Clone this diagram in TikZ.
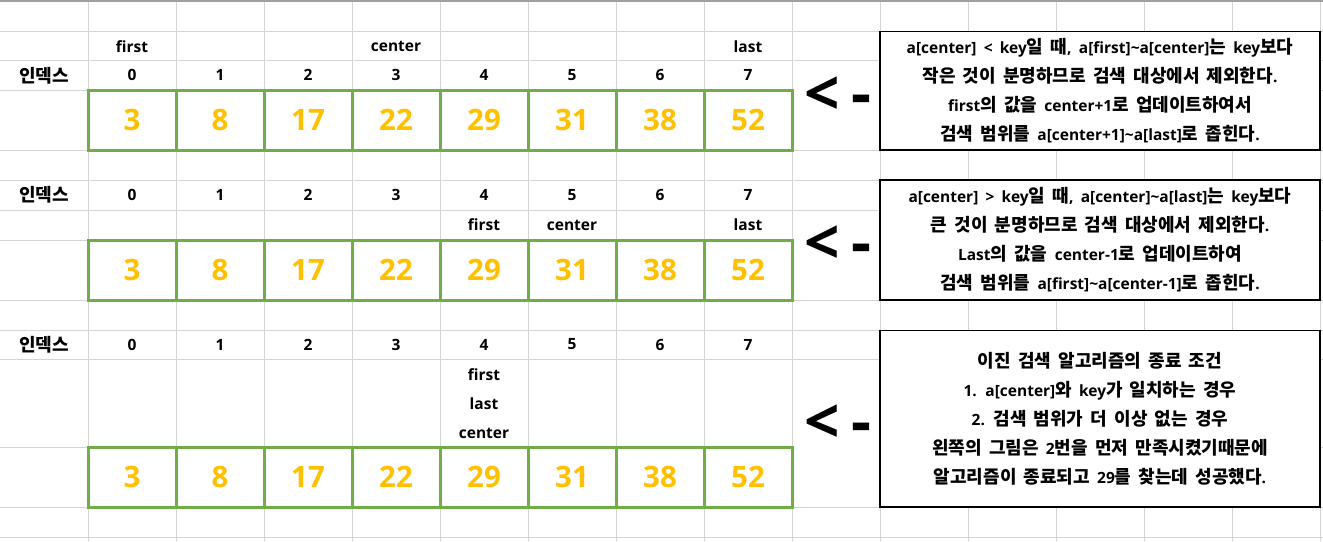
\documentclass[tikz,border=0pt]{standalone}
\usepackage{fontspec}
\setmainfont{Open Sans}
\newfontfamily\boxfont{Open Sans}[WordSpace=1.8]
\newfontfamily\krfont{Noto Sans CJK KR}[Scale=1.16]
\XeTeXinterchartokenstate=1
\newXeTeXintercharclass\krclass
\newcount\kc
\kc="AC00
\loop
  \XeTeXcharclass\kc=\krclass
  \ifnum\kc<"D7A3 \advance\kc by 1
\repeat
\XeTeXinterchartoks 0 \krclass = {\begingroup\krfont}
\XeTeXinterchartoks 4095 \krclass = {\begingroup\krfont}
\XeTeXinterchartoks \krclass 0 = {\endgroup}
\XeTeXinterchartoks \krclass 4095 = {\endgroup}
\definecolor{gridc}{HTML}{D4D4D4}
\definecolor{cellgreen}{HTML}{70AD47}
\definecolor{numorange}{HTML}{FFC000}
\begin{document}
\begin{tikzpicture}[x=1pt,y=-1pt,
  gridline/.style={draw=gridc,line width=1pt},
  lbl/.style={font=\fontsize{15.5}{18}\selectfont\bfseries,inner sep=0pt,anchor=center},
  stacklbl/.style={font=\fontsize{15.5}{29}\selectfont\bfseries,inner sep=0pt,align=center},
  numcell/.style={draw=cellgreen,line width=3pt,minimum width=88pt,minimum height=60pt,inner sep=0pt,font=\fontsize{29.5}{34}\selectfont\bfseries,text=numorange},
  arrowtxt/.style={font=\fontsize{62}{66}\selectfont\bfseries,inner sep=0pt},
  infobox/.style={draw=black,line width=1.3pt,fill=white,inner sep=0pt,align=center,minimum width=440pt,font=\boxfont\fontsize{15.5}{29}\selectfont\bfseries},
]
\useasboundingbox (0,0) rectangle (1323,541);
% spreadsheet grid
\foreach \y in {31.7,60.7,90,150,180,210,240,300,330,359,447,507,537}
  \draw[gridline] (0,\y) -- (1323,\y);
\foreach \x in {88,176,...,1320}
  \draw[gridline] (\x,0) -- (\x,541);
\draw[draw=gray!75,line width=1.6pt] (0,0.8) -- (1323,0.8);
% merged cells (no inner grid)
\fill[white] (792.5,61.2) rectangle (879.5,149.5);
\fill[white] (792.5,210.5) rectangle (879.5,299.5);
\fill[white] (792.5,359.5) rectangle (879.5,506.5);

% ---------- block 1 ----------
\node[lbl] (f1) at (132,46.2) {first};
\node[lbl] (c1) at (396,46.2) {center};
\node[lbl] (l1) at (748,46.2) {last};
\node[lbl] (ia) at (44,75.3) {인덱스};
\foreach \i in {0,...,7} \node[lbl] (ai\i) at ({132+88*\i},75.3) {\i};
\foreach \v [count=\i from 0] in {3,8,17,22,29,31,38,52}
  \node[numcell] (a\i) at ({132+88*\i},120) {\v};
\node[arrowtxt] (arr1) at (838,96) {<{\kern-0.08em} -};
\node[infobox,minimum height=118.3pt] (box1) at (1100,90.85)
  {a[center] < key일 때, a[first]\textasciitilde a[center]는 key보다\\
   작은 것이 분명하므로 검색 대상에서 제외한다.\\
   first의 값을 center+1로 업데이트하여서\\
   검색 범위를 a[center+1]\textasciitilde a[last]로 좁힌다.};

% ---------- block 2 ----------
\node[lbl] (ib) at (44,195) {인덱스};
\foreach \i in {0,...,7} \node[lbl] (bi\i) at ({132+88*\i},195) {\i};
\node[lbl] (f2) at (484,225) {first};
\node[lbl] (c2) at (572,225) {center};
\node[lbl] (l2) at (748,225) {last};
\foreach \v [count=\i from 0] in {3,8,17,22,29,31,38,52}
  \node[numcell] (b\i) at ({132+88*\i},270) {\v};
\node[arrowtxt] (arr2) at (838,245) {<{\kern-0.08em} -};
\node[infobox,minimum height=120pt] (box2) at (1100,240)
  {a[center] > key일 때, a[center]\textasciitilde a[last]는 key보다\\
   큰 것이 분명하므로 검색 대상에서 제외한다.\\
   Last의 값을 center-1로 업데이트하여\\
   검색 범위를 a[first]\textasciitilde a[center-1]로 좁힌다.};

% ---------- block 3 ----------
\node[lbl] (ic) at (44,344.5) {인덱스};
\foreach \i in {0,...,7} \node[lbl] (ci\i) at ({132+88*\i},344.5) {\i};
\node[stacklbl] (flc3) at (484,403.5) {first\\last\\center};
\foreach \v [count=\i from 0] in {3,8,17,22,29,31,38,52}
  \node[numcell] (c\i) at ({132+88*\i},477) {\v};
\node[arrowtxt] (arr3) at (838,424) {<{\kern-0.08em} -};
\node[infobox,minimum height=176.5pt] (box3) at (1100,418.75)
  {이진 검색 알고리즘의 종료 조건\\
   1. a[center]와 key가 일치하는 경우\\
   2. 검색 범위가 더 이상 없는 경우\\
   왼쪽의 그림은 2번을 먼저 만족시켰기때문에\\
   알고리즘이 종료되고 29를 찾는데 성공했다.};
\end{tikzpicture}
\end{document}
